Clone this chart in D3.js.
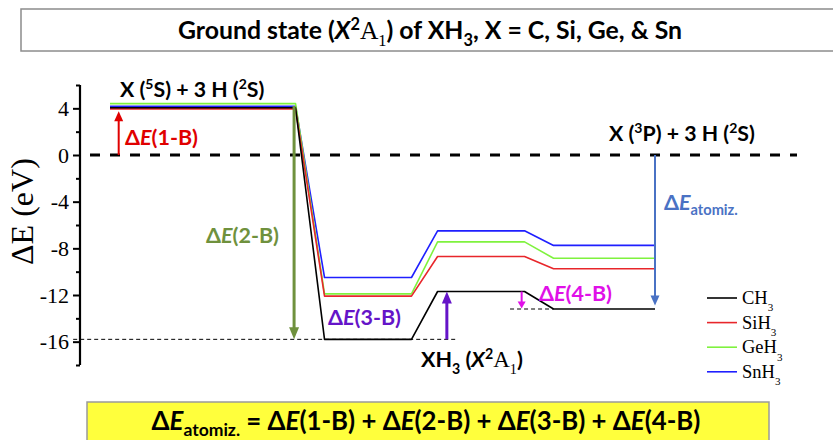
<!DOCTYPE html>
<html>
<head>
<meta charset="utf-8">
<script src="https://cdn.jsdelivr.net/npm/d3@7"></script>
<style>
  body { margin: 0; background: #fff; }
  svg { display: block; }
</style>
</head>
<body>
<svg id="chart" width="833" height="440"></svg>
<script>
// ---- data -------------------------------------------------------------
// Series names (legend) and their colours
const seriesNames = ["CH", "SiH", "GeH", "SnH"];
const seriesColors = ["#000000", "#e8262b", "#7ff23e", "#1f1fff"];

// Energy (eV) of each stage: [X(5S)+3H, bottom, XH3 ground state, X(3P)+3H-referenced]
const ch3Energy  = [4.05, -15.8, -11.7, -13.2];
const sih3Energy = [3.95, -12.1, -8.7, -9.75];
const geh3Energy = [4.4, -11.9, -7.45, -8.85];
const snh3Energy = [4.18, -10.5, -6.5, -7.75];
const seriesEnergy = [ch3Energy, sih3Energy, geh3Energy, snh3Energy];

// Reaction-coordinate extent of each plateau
const stageStart = [0, 7.4, 11.3, 15.3];
const stageEnd   = [6.4, 10.4, 14.3, 18.8];

// Axis ticks
const majorTicks = [-16, -12, -8, -4, 0, 4];
const minorTicks = [-18, -14, -10, -6, -2, 2, 6];

// ---- layout -----------------------------------------------------------
const svg = d3.select("#chart");
const SANS = "Lato, 'Open Sans', sans-serif";
const SERIF = "'Liberation Serif', 'Times New Roman', serif";

const x = d3.scaleLinear().domain([0, 18.8]).range([110, 655]);
const y = d3.scaleLinear().domain([-18, 6]).range([365, 85]);
const axisX = 80;

// Rich text helper: segments with sub/sup/italic/serif pieces
function rich(parent, px, py, segs, o) {
  const t = parent.append("text")
    .attr("x", px).attr("y", py)
    .attr("font-family", o.family || SANS)
    .attr("font-size", o.size)
    .attr("font-weight", o.weight || "bold")
    .attr("fill", o.color || "#000")
    .attr("text-anchor", o.anchor || "start");
  let shift = 0;
  segs.forEach(s => {
    const seg = typeof s === "string" ? { t: s } : s;
    const target = seg.sub ? o.size * (seg.subShift || 0.32) : seg.sup ? -o.size * 0.36 : 0;
    const ts = t.append("tspan").text(seg.t).attr("dy", target - shift);
    shift = target;
    if (seg.sub || seg.sup) ts.attr("font-size", o.size * (seg.scale || 0.66));
    if (seg.i) ts.attr("font-style", "italic");
    if (seg.serif) ts.attr("font-family", SERIF).attr("font-weight", "normal");
    if (seg.normal) ts.attr("font-weight", "normal");
    if (seg.size) ts.attr("font-size", seg.size);
  });
  return t;
}

// ---- title box --------------------------------------------------------
svg.append("rect")
  .attr("x", 21).attr("y", 9).attr("width", 830).attr("height", 42)
  .attr("fill", "#fff").attr("stroke", "#8c8c8c").attr("stroke-width", 1.5);
rich(svg, 430, 38.5, [
  "Ground state (", { t: "X", i: true }, { t: "2", sup: true },
  { t: "A", serif: true, size: 25.5 }, { t: "1", sub: true, serif: true },
  ") of XH", { t: "3", sub: true }, ", X = C, Si, Ge, & Sn"
], { size: 24.8, anchor: "middle" });

// ---- axis -------------------------------------------------------------
const gAxis = svg.append("g").attr("transform", `translate(${axisX},0)`);
gAxis.call(d3.axisLeft(y).tickValues(majorTicks).tickSize(7).tickPadding(4)
  .tickFormat(d => d === 0 ? "0" : d3.format("d")(d).replace("−", "-")));
gAxis.select(".domain").attr("stroke-width", 2.2).attr("d", `M0,${y(-18)}V${y(6)}`);
gAxis.selectAll(".tick line").attr("stroke-width", 2);
gAxis.selectAll(".tick text")
  .attr("font-family", SERIF).attr("font-size", 22).attr("fill", "#000");
const gMinor = svg.append("g").attr("transform", `translate(${axisX},0)`);
gMinor.call(d3.axisLeft(y).tickValues(minorTicks).tickSize(4).tickFormat(""));
gMinor.select(".domain").remove();
gMinor.selectAll(".tick line").attr("stroke-width", 2);

svg.append("text")
  .attr("transform", `translate(33,${y(-4.85)}) rotate(-90)`)
  .attr("text-anchor", "middle")
  .attr("font-family", SERIF).attr("font-size", 32)
  .text("ΔE (eV)");

// ---- reference lines --------------------------------------------------
svg.append("line")
  .attr("x1", 90).attr("x2", 797).attr("y1", y(0)).attr("y2", y(0))
  .attr("stroke", "#000").attr("stroke-width", 3).attr("stroke-dasharray", "10,10");
svg.append("line")
  .attr("x1", x(-1.27)).attr("x2", x(12.0)).attr("y1", y(ch3Energy[1])).attr("y2", y(ch3Energy[1]))
  .attr("stroke", "#000").attr("stroke-width", 1).attr("stroke-dasharray", "4,3");
svg.append("line")
  .attr("x1", x(13.8)).attr("x2", x(stageStart[3])).attr("y1", y(ch3Energy[3])).attr("y2", y(ch3Energy[3]))
  .attr("stroke", "#000").attr("stroke-width", 1).attr("stroke-dasharray", "4,3");

// ---- energy profiles --------------------------------------------------
const line = d3.line().x(d => x(d[0])).y(d => y(d[1]));
const order = [3, 2, 1, 0];
svg.append("g").selectAll("path")
  .data(order)
  .join("path")
  .attr("d", i => line(seriesEnergy[i].flatMap((v, k) => [[stageStart[k], v], [stageEnd[k], v]])))
  .attr("fill", "none")
  .attr("stroke", i => seriesColors[i])
  .attr("stroke-width", 1.6)
  .attr("stroke-linejoin", "round");

// ---- arrows -----------------------------------------------------------
function arrow(xv, y0, y1, color, w, headW, headL) {
  const px = x(xv), a = y(y0), b = y(y1);
  const dir = b > a ? 1 : -1;
  svg.append("line")
    .attr("x1", px).attr("x2", px).attr("y1", a).attr("y2", b - dir * headL * 0.8)
    .attr("stroke", color).attr("stroke-width", w);
  svg.append("path")
    .attr("d", `M${px - headW / 2},${b - dir * headL}L${px + headW / 2},${b - dir * headL}L${px},${b}Z`)
    .attr("fill", color);
}
const cRed = "#e00000", cOlive = "#6f913d", cPurple = "#6514c8", cMagenta = "#e010e8", cBlue = "#4a72c4";
arrow(0.3, 0, 3.75, cRed, 2, 9, 10);
arrow(6.35, 4.2, -15.8, cOlive, 3, 10, 12);
arrow(11.62, -15.8, -11.7, cPurple, 3, 10, 12);
arrow(14.2, -11.7, -13.15, cMagenta, 2, 8, 7);
arrow(18.8, 0, -12.9, cBlue, 2, 9, 10);

// ---- annotations ------------------------------------------------------
const dE = lbl => ["Δ", { t: "E", i: true }, lbl];
rich(svg, 125, 145, dE("(1-B)"), { size: 21.5, color: cRed });
rich(svg, 206, 243, dE("(2-B)"), { size: 21.5, color: cOlive });
rich(svg, 328, 325, dE("(3-B)"), { size: 21.5, color: cPurple });
rich(svg, 539, 301, dE("(4-B)"), { size: 21.5, color: cMagenta });
rich(svg, 664, 210, ["Δ", { t: "E", i: true }, { t: "atomiz.", sub: true, scale: 0.68, subShift: 0.25 }],
  { size: 21.5, color: cBlue });

rich(svg, 120, 97, ["X (", { t: "5", sup: true }, "S) + 3 H (", { t: "2", sup: true }, "S)"], { size: 21.3 });
rich(svg, 609, 141, ["X (", { t: "3", sup: true }, "P) + 3 H (", { t: "2", sup: true }, "S)"], { size: 21.3 });
rich(svg, 421, 367, ["XH", { t: "3", sub: true }, " (", { t: "X", i: true }, { t: "2", sup: true },
  { t: "A", serif: true, size: 23 }, { t: "1", sub: true, serif: true }, ")"], { size: 21.5 });

// ---- legend -----------------------------------------------------------
const legend = svg.append("g");
seriesNames.forEach((name, i) => {
  const ly = 298 + i * 24.6;
  legend.append("line")
    .attr("x1", 707).attr("x2", 737).attr("y1", ly).attr("y2", ly)
    .attr("stroke", seriesColors[i]).attr("stroke-width", 1.6);
  rich(legend, 742, ly + 6, [name, { t: "3", sub: true, subShift: 0.4, scale: 0.6 }],
    { size: 18.5, weight: "normal", family: SERIF });
});

// ---- equation box -----------------------------------------------------
svg.append("rect")
  .attr("x", 87).attr("y", 402).attr("width", 682).attr("height", 46)
  .attr("fill", "#ffff3c").attr("stroke", "#9a9a9a").attr("stroke-width", 1.5);
rich(svg, 426, 429.5, [
  "Δ", { t: "E", i: true }, { t: "atomiz.", sub: true, scale: 0.68, subShift: 0.25 },
  " = Δ", { t: "E", i: true }, "(1-B) + Δ", { t: "E", i: true }, "(2-B) + Δ",
  { t: "E", i: true }, "(3-B) + Δ", { t: "E", i: true }, "(4-B)"
], { size: 25.8, anchor: "middle" });
</script>
</body>
</html>
